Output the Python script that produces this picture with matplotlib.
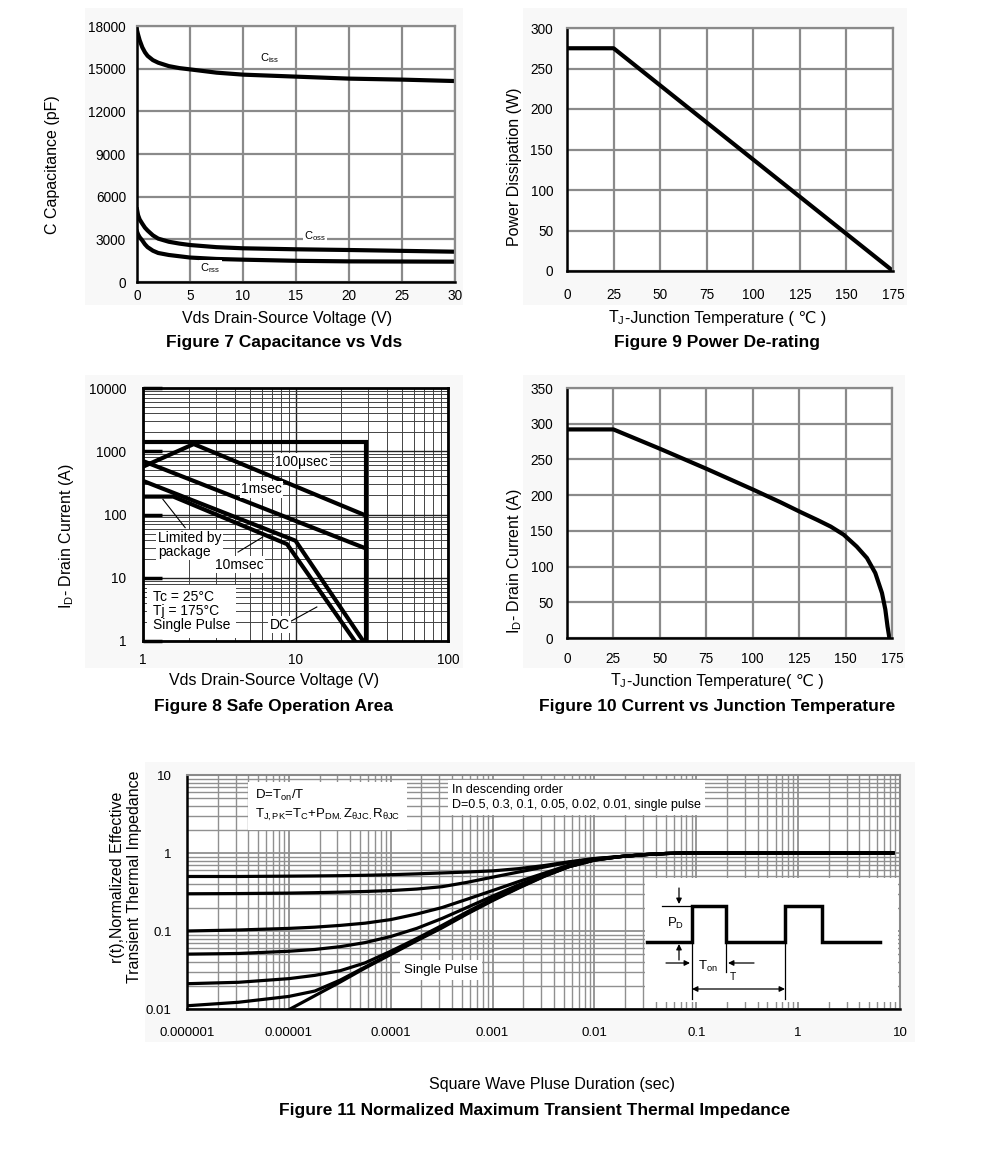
import numpy as np
import matplotlib.pyplot as plt
from matplotlib.ticker import LogLocator, NullFormatter
from matplotlib.patches import Rectangle
from matplotlib.offsetbox import TextArea, HPacker, AnnotationBbox

plt.rcParams['font.family'] = ['Liberation Sans', 'DejaVu Sans']
plt.rcParams['mathtext.fontset'] = 'custom'
plt.rcParams['mathtext.rm'] = 'Liberation Sans'
plt.rcParams['mathtext.it'] = 'Liberation Sans:italic'
plt.rcParams['mathtext.bf'] = 'Liberation Sans:bold'

# ---------------- Data ----------------
# Figure 7 capacitance
vds_cap = [0, 0.1, 0.25, 0.5, 0.75, 1, 1.5, 2, 3, 4, 5, 7.5, 10, 15, 20, 25, 30]
ciss = [17700, 17400, 17000, 16500, 16150, 15900, 15600, 15420, 15180, 15040, 14950,
        14720, 14580, 14440, 14300, 14230, 14130]
coss = [5100, 4700, 4400, 4100, 3820, 3620, 3280, 3050, 2830, 2700, 2600,
        2450, 2370, 2300, 2250, 2190, 2130]
crss = [3540, 3350, 3150, 2920, 2650, 2450, 2200, 2040, 1900, 1810, 1720,
        1620, 1570, 1490, 1450, 1440, 1430]

# Figure 9 power de-rating
tj_pd = [0, 25, 175]
pd = [275, 275, 0]

# Figure 8 safe operation area
limit_v = [1, 29, 29]
limit_i = [1400, 1400, 1]
us100_v = [1, 2.15, 29]
us100_i = [570, 1300, 96]
ms1_v = [1, 29]
ms1_i = [700, 29]
ms10_v = [1, 10, 27.8]
ms10_i = [340, 38.5, 1]
dc_v = [1, 1.58, 8.8, 24.5]
dc_i = [192, 192, 34, 1]

# Figure 10 current vs junction temperature
tj_id = [0, 25, 50, 75, 100, 115, 126, 135, 142, 149, 156, 161.5, 166, 169.6, 171.4, 172.6, 173.6]
id_tj = [292, 292, 265, 237, 208, 190, 176, 165, 156, 144.6, 128, 112, 91, 63, 40, 16, 0]

# Figure 11 transient thermal impedance
t_pulse = [1e-6, 3.2e-6, 1e-5, 1.8e-5, 3.2e-5, 5.6e-5, 1e-4, 1.8e-4, 3.2e-4, 5.6e-4,
           1e-3, 1.8e-3, 3.2e-3, 5.6e-3, 1e-2, 1.8e-2, 3.2e-2, 5e-2, 8e-2, 8.5]
z_tail = [0.9, 0.955, 0.985, 1.0, 1.0]
z_d05 = [0.5, 0.5, 0.505, 0.508, 0.512, 0.518, 0.527, 0.54, 0.555, 0.57,
         0.59, 0.63, 0.69, 0.77, 0.85] + z_tail
z_d03 = [0.3, 0.302, 0.306, 0.31, 0.315, 0.321, 0.33, 0.345, 0.37, 0.42,
         0.49, 0.57, 0.66, 0.76, 0.845] + z_tail
z_d01 = [0.1, 0.103, 0.108, 0.112, 0.118, 0.126, 0.14, 0.165, 0.2, 0.255,
         0.33, 0.43, 0.55, 0.7, 0.83] + z_tail
z_d005 = [0.0505, 0.0515, 0.055, 0.058, 0.063, 0.071, 0.085, 0.108, 0.145, 0.2,
          0.28, 0.39, 0.52, 0.68, 0.82] + z_tail
z_d002 = [0.0211, 0.022, 0.0245, 0.027, 0.031, 0.039, 0.055, 0.08, 0.118, 0.175,
          0.26, 0.37, 0.51, 0.67, 0.815] + z_tail
z_d001 = [0.011, 0.0122, 0.0145, 0.017, 0.0235, 0.0345, 0.051, 0.077, 0.113, 0.168,
          0.25, 0.36, 0.505, 0.668, 0.812] + z_tail
t_single = t_pulse[2:]
z_single = [0.0098, 0.0148, 0.0222, 0.0335, 0.05, 0.075, 0.11, 0.165,
            0.245, 0.355, 0.5, 0.665, 0.81] + z_tail

# inset pulse schematic (inset pixel units)
pulse_x = [647, 692, 692, 726, 726, 785, 785, 822, 822, 880]
pulse_y = [942, 942, 906, 906, 942, 942, 906, 906, 942, 942]

W, H = 991, 1149


def box(l, t, r, b):
    return [l / W, 1 - b / H, (r - l) / W, (b - t) / H]


fig = plt.figure(figsize=(W / 100, H / 100), dpi=100)


def ftext(px, py, s, **kw):
    kw.setdefault('ha', 'center')
    kw.setdefault('va', 'center')
    fig.text(px / W, 1 - py / H, s, **kw)


label_fs = 11.5
title_fs = 12.5


def tj_label(px, py, tail):
    # T_J in mathtext, the rest as plain text so that ℃ falls back to DejaVu
    parts = [TextArea(r'T$_{\rm J}$', textprops=dict(fontsize=label_fs)),
             TextArea(tail, textprops=dict(fontsize=label_fs))]
    pack = HPacker(children=parts, align='baseline', pad=0, sep=0)
    ab = AnnotationBbox(pack, (px / W, 1 - py / H), xycoords='figure fraction',
                        frameon=False, box_alignment=(0.5, 0.5))
    fig.add_artist(ab)


# light grey panels behind each chart
for l, t, r, b in [(85, 8, 463, 305), (523, 8, 907, 305), (85, 375, 463, 668),
                   (523, 375, 905, 668), (145, 762, 915, 1042)]:
    fig.add_artist(Rectangle((l / W, 1 - b / H), (r - l) / W, (b - t) / H,
                             transform=fig.transFigure, facecolor='#f8f8f8',
                             edgecolor='none', zorder=-5))


def lin_style(ax, xpad, ypad):
    ax.grid(True, color='#8a8a8a', lw=1.6)
    ax.set_axisbelow(True)
    ax.tick_params(length=0, labelsize=9.8)
    ax.tick_params(axis='x', pad=xpad)
    ax.tick_params(axis='y', pad=ypad)
    for s in ['top', 'right']:
        ax.spines[s].set_color('#8a8a8a')
        ax.spines[s].set_linewidth(1.6)
    for s in ['left', 'bottom']:
        ax.spines[s].set_color('black')
        ax.spines[s].set_linewidth(1.8)


tb = dict(facecolor='white', edgecolor='none', pad=1)

# ---------------- Figure 7 ----------------
ax7 = fig.add_axes(box(137, 26, 455, 282))
ax7.plot(vds_cap, ciss, color='black', lw=3)
ax7.plot(vds_cap, coss, color='black', lw=3)
ax7.plot(vds_cap, crss, color='black', lw=3)
ax7.set_xlim(0, 30)
ax7.set_ylim(0, 18000)
ax7.set_xticks(range(0, 31, 5))
ax7.set_yticks(range(0, 18001, 3000))
lin_style(ax7, 5, 8)
ax7.text(12.5, 15750, r'C$_{\rm iss}$', fontsize=8, ha='center', va='center', bbox=tb)
ax7.text(16.8, 3230, r'C$_{\rm oss}$', fontsize=8, ha='center', va='center', bbox=tb)
ax7.text(6.9, 980, r'C$_{\rm rss}$', fontsize=8, ha='center', va='center', bbox=tb)
ftext(53, 165, 'C Capacitance (pF)', rotation=90, fontsize=label_fs)
ftext(287, 318, 'Vds Drain-Source Voltage (V)', fontsize=label_fs)
ftext(284, 343, 'Figure 7 Capacitance vs Vds', fontsize=title_fs, fontweight='bold')

# ---------------- Figure 9 ----------------
ax9 = fig.add_axes(box(567, 28, 893, 271))
ax9.plot(tj_pd, pd, color='black', lw=3)
ax9.set_xlim(0, 175)
ax9.set_ylim(0, 300)
ax9.set_xticks(range(0, 176, 25))
ax9.set_yticks(range(0, 301, 50))
lin_style(ax9, 12, 10)
ftext(515, 167, 'Power Dissipation (W)', rotation=90, fontsize=label_fs)
tj_label(717, 318, '-Junction Temperature ( ℃ )')
ftext(717, 343, 'Figure 9 Power De-rating', fontsize=title_fs, fontweight='bold')

# ---------------- Figure 8 ----------------
ax8 = fig.add_axes(box(143, 388, 448, 641))
ax8.set_xscale('log')
ax8.set_yscale('log')
for xs, ys in [(limit_v, limit_i), (us100_v, us100_i), (ms1_v, ms1_i),
               (ms10_v, ms10_i), (dc_v, dc_i)]:
    ax8.plot(xs, ys, color='black', lw=3, solid_joinstyle='miter')
ax8.set_xlim(1, 100)
ax8.set_ylim(1, 10000)
for axis in [ax8.xaxis, ax8.yaxis]:
    axis.set_minor_locator(LogLocator(base=10, subs=np.arange(2, 10)))
    axis.set_minor_formatter(NullFormatter())
ax8.set_xticks([1, 10, 100])
ax8.set_xticklabels(['1', '10', '100'])
ax8.set_yticks([1, 10, 100, 1000, 10000])
ax8.set_yticklabels(['1', '10', '100', '1000', '10000'])
ax8.grid(True, which='major', color='#222222', lw=1.0)
ax8.grid(True, which='minor', color='#444444', lw=0.7)
ax8.set_axisbelow(True)
ax8.tick_params(which='minor', length=0)
ax8.tick_params(axis='x', which='major', length=0, pad=9, labelsize=9.8)
ax8.tick_params(axis='y', which='major', direction='in', length=14, width=2.5,
                pad=12, labelsize=9.8)
for s in ax8.spines.values():
    s.set_color('black')
    s.set_linewidth(2)
ax8.text(11, 680, '100μsec', fontsize=10, ha='center', va='center', bbox=tb)
ax8.text(6.0, 252, '1msec', fontsize=10, ha='center', va='center', bbox=tb)
ax8.text(1.25, 33, 'Limited by\npackage', fontsize=10, ha='left', va='center',
         linespacing=0.95, bbox=tb)
ax8.text(4.3, 16, '10msec', fontsize=10, ha='center', va='center', bbox=tb)
ax8.text(7.9, 1.8, 'DC', fontsize=10, ha='center', va='center', bbox=tb)
ax8.text(1.16, 2.95, 'Tc = 25°C\nTj = 175°C\nSingle Pulse', fontsize=10, ha='left',
         va='center', linespacing=1.0,
         bbox=dict(facecolor='white', edgecolor='none', pad=4))
ax8.plot([1.35, 1.89], [174, 62], color='black', lw=0.8)
ax8.plot([4.2, 6.1], [25.5, 44], color='black', lw=0.8)
ax8.plot([8.9, 13.8], [1.93, 3.45], color='black', lw=0.8)
ftext(67, 536, r'I$_{\rm D}$- Drain Current (A)', rotation=90, fontsize=label_fs)
ftext(274, 681, 'Vds Drain-Source Voltage (V)', fontsize=label_fs)
ftext(274, 707, 'Figure 8 Safe Operation Area', fontsize=title_fs, fontweight='bold')

# ---------------- Figure 10 ----------------
ax10 = fig.add_axes(box(567, 388, 892, 638))
ax10.plot(tj_id, id_tj, color='black', lw=3)
ax10.set_xlim(0, 175)
ax10.set_ylim(0, 350)
ax10.set_xticks(range(0, 176, 25))
ax10.set_yticks(range(0, 351, 50))
lin_style(ax10, 10, 10)
ftext(515, 561, r'I$_{\rm D}$- Drain Current (A)', rotation=90, fontsize=label_fs)
tj_label(717, 681, '-Junction Temperature( ℃ )')
ftext(717, 707, 'Figure 10 Current vs Junction Temperature', fontsize=title_fs,
      fontweight='bold')

# ---------------- Figure 11 ----------------
ax11 = fig.add_axes(box(187, 775, 900, 1009))
ax11.set_xscale('log')
ax11.set_yscale('log')
for zs in [z_d05, z_d03, z_d01, z_d005, z_d002, z_d001]:
    ax11.plot(t_pulse, zs, color='black', lw=2.3)
ax11.plot(t_single, z_single, color='black', lw=2.3)
ax11.set_xlim(1e-6, 10)
ax11.set_ylim(0.01, 10)
for axis in [ax11.xaxis, ax11.yaxis]:
    axis.set_minor_locator(LogLocator(base=10, subs=np.arange(2, 10)))
    axis.set_minor_formatter(NullFormatter())
ax11.set_xticks([1e-6, 1e-5, 1e-4, 1e-3, 1e-2, 1e-1, 1, 10])
ax11.set_xticklabels(['0.000001', '0.00001', '0.0001', '0.001', '0.01', '0.1', '1', '10'])
ax11.set_yticks([0.01, 0.1, 1, 10])
ax11.set_yticklabels(['0.01', '0.1', '1', '10'])
ax11.grid(True, which='major', color='#909090', lw=1.3)
ax11.grid(True, which='minor', color='#909090', lw=1.0)
ax11.set_axisbelow(True)
ax11.tick_params(which='both', length=0)
ax11.tick_params(axis='x', pad=13, labelsize=9.5)
ax11.tick_params(axis='y', pad=11, labelsize=9.5)
for s in ['top', 'right']:
    ax11.spines[s].set_color('#8a8a8a')
    ax11.spines[s].set_linewidth(1.5)
for s in ['left', 'bottom']:
    ax11.spines[s].set_color('black')
    ax11.spines[s].set_linewidth(1.8)
ax11.text(0.095, 0.87,
          'D=T$_{\\rm on}$/T\nT$_{\\rm J,PK}$=T$_{\\rm C}$+P$_{\\rm DM.}$Z$_{\\rm θJC.}$R$_{\\rm θJC}$',
          transform=ax11.transAxes, fontsize=9.5, ha='left', va='center',
          linespacing=1.4, bbox=dict(facecolor='white', edgecolor='none', pad=5))
ax11.text(0.372, 0.905,
          'In descending order\nD=0.5, 0.3, 0.1, 0.05, 0.02, 0.01, single pulse',
          transform=ax11.transAxes, fontsize=9, ha='left', va='center',
          linespacing=1.3, bbox=dict(facecolor='white', edgecolor='none', pad=3))
ax11.text(0.356, 0.167, 'Single Pulse', transform=ax11.transAxes, fontsize=9.5,
          ha='center', va='center', bbox=dict(facecolor='white', edgecolor='none', pad=3))
ftext(126, 877, 'r(t),Normalized Effective\nTransient Thermal Impedance', rotation=90,
      fontsize=label_fs, linespacing=1.15)
ftext(552, 1084, 'Square Wave Pluse Duration (sec)', fontsize=label_fs)
ftext(535, 1110, 'Figure 11 Normalized Maximum Transient Thermal Impedance',
      fontsize=title_fs, fontweight='bold')

# inset pulse schematic
axi = fig.add_axes(box(645, 878, 898, 1002))
axi.set_facecolor('white')
axi.set_xlim(645, 898)
axi.set_ylim(1002, 878)
axi.set_xticks([])
axi.set_yticks([])
for s in axi.spines.values():
    s.set_visible(False)
axi.plot(pulse_x, pulse_y, color='black', lw=2.5, solid_joinstyle='miter')
thin = dict(color='black', lw=0.9)
axi.plot([662, 692], [906, 906], **thin)
axi.plot([692, 692], [942, 999], **thin)
axi.plot([726, 726], [942, 972], **thin)
axi.plot([785, 785], [942, 999], **thin)
arr = dict(arrowstyle='-|>', color='black', lw=0.9, mutation_scale=8, shrinkA=0, shrinkB=0)
axi.annotate('', xy=(679, 904), xytext=(679, 888), arrowprops=arr)
axi.annotate('', xy=(679, 944), xytext=(679, 960), arrowprops=arr)
axi.annotate('', xy=(690, 963), xytext=(666, 963), arrowprops=arr)
axi.annotate('', xy=(728, 963), xytext=(754, 963), arrowprops=arr)
axi.annotate('', xy=(785, 989), xytext=(692, 989),
             arrowprops=dict(arrowstyle='<|-|>', color='black', lw=0.9,
                             mutation_scale=8, shrinkA=0, shrinkB=0))
axi.text(676, 923, 'P$_{\\rm D}$', fontsize=9.5, ha='center', va='center')
axi.text(708, 966, 'T$_{\\rm on}$', fontsize=9.5, ha='center', va='center')
axi.text(733, 977, 'T', fontsize=7.5, ha='center', va='center')

fig.savefig('out.png', dpi=100)
